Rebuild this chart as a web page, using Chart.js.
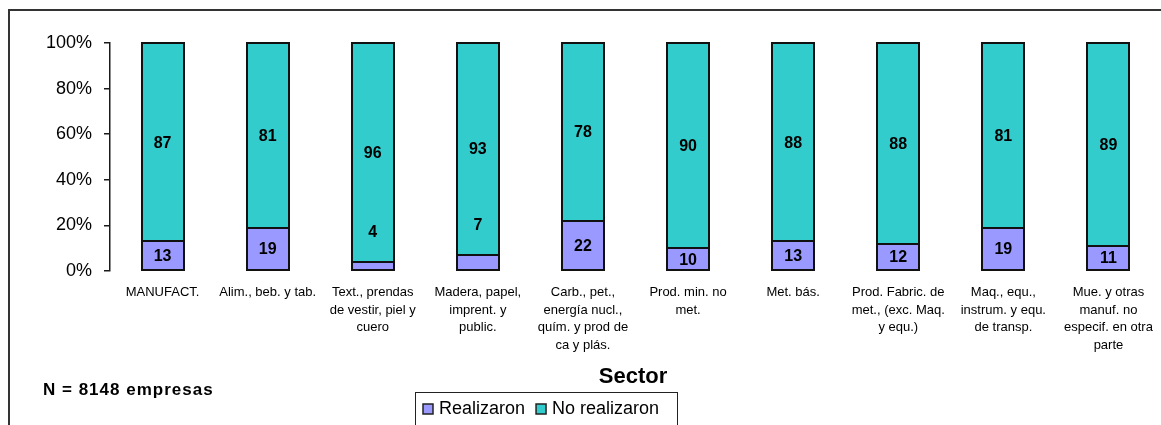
<!DOCTYPE html>
<html lang="es">
<head>
<meta charset="utf-8">
<title>Empresas por sector</title>
<script src="https://cdn.jsdelivr.net/npm/chart.js@4.4.1/dist/chart.umd.min.js"></script>
<style>
    html, body { margin: 0; padding: 0; background: #fff; }
    #wrap { position: relative; width: 1161px; height: 425px; }
</style>
</head>
<body>
<div id="wrap"><canvas id="sectorChart" width="1161" height="425"></canvas></div>
<script>
// Datos por sector (porcentaje de empresas)
const sectores = [
    'MANUFACT.',
    'Alim., beb. y tab.',
    ['Text., prendas', 'de vestir, piel y', 'cuero'],
    ['Madera, papel,', 'imprent. y', 'public.'],
    ['Carb., pet.,', 'energía nucl.,', 'quím. y prod de', 'ca y plás.'],
    ['Prod. min. no', 'met.'],
    'Met. bás.',
    ['Prod. Fabric. de', 'met., (exc. Maq.', 'y equ.)'],
    ['Maq., equ.,', 'instrum. y equ.', 'de transp.'],
    ['Mue. y otras', 'manuf. no', 'especif. en otra', 'parte']
];
const realizaron = [13, 19, 4, 7, 22, 10, 13, 12, 19, 11];
const noRealizaron = [87, 81, 96, 93, 78, 90, 88, 88, 81, 89];
const ticksY = [0, 20, 40, 60, 80, 100];

const tituloEje = 'Sector';
const nota = 'N = 8148 empresas';

const fuente = '"Liberation Sans", Arial, sans-serif';

// Marco exterior del gráfico
const marco = {
    id: 'marco',
    beforeDraw(chart) {
        const ctx = chart.ctx;
        ctx.save();
        ctx.fillStyle = '#fff';
        ctx.fillRect(0, 0, chart.width, chart.height);
        ctx.strokeStyle = '#333';
        ctx.lineWidth = 2;
        ctx.strokeRect(9, 10, 1300, 600);
        ctx.restore();
    }
};

// Contorno nítido de cada segmento y etiquetas con su valor
const etiquetas = {
    id: 'etiquetas',
    afterDatasetsDraw(chart) {
        const ctx = chart.ctx;
        const top = chart.chartArea.top;
        ctx.save();
        ctx.strokeStyle = '#111';
        ctx.lineWidth = 2;
        chart.data.datasets.forEach((ds, i) => {
            chart.getDatasetMeta(i).data.forEach(bar => {
                const x0 = Math.round(bar.x - bar.width / 2);
                const x1 = Math.round(bar.x + bar.width / 2);
                const y0 = Math.round(Math.max(bar.y, top));
                const y1 = Math.round(bar.base);
                ctx.strokeRect(x0, y0, x1 - x0, y1 - y0);
            });
        });

        ctx.font = 'bold 16px ' + fuente;
        ctx.fillStyle = '#000';
        ctx.textAlign = 'center';
        ctx.textBaseline = 'middle';
        chart.data.datasets.forEach((ds, i) => {
            chart.getDatasetMeta(i).data.forEach((bar, j) => {
                const v = ds.data[j];
                let y = (Math.max(bar.y, top) + bar.base) / 2;
                // segmentos pequeños: el valor va por encima
                if (i === 0 && v < 8) y = bar.y - 30;
                ctx.fillText(String(v), bar.x, y + 1);
            });
        });
        ctx.restore();
    }
};

// Título del eje, nota y leyenda
const textos = {
    id: 'textos',
    afterDraw(chart) {
        const ctx = chart.ctx;
        ctx.save();
        ctx.fillStyle = '#000';
        ctx.textBaseline = 'middle';

        ctx.font = 'bold 22px ' + fuente;
        ctx.textAlign = 'center';
        ctx.fillText(tituloEje, 633, 377);

        ctx.font = 'bold 17px ' + fuente;
        ctx.textAlign = 'left';
        ctx.letterSpacing = '1px';
        ctx.fillText(nota, 43, 390);
        ctx.letterSpacing = '0px';

        // leyenda
        ctx.strokeStyle = '#222';
        ctx.lineWidth = 1;
        ctx.strokeRect(415.5, 392.5, 262, 60);
        ctx.font = '18px ' + fuente;
        let x = 423;
        chart.data.datasets.forEach(ds => {
            ctx.fillStyle = ds.backgroundColor;
            ctx.fillRect(x, 404, 10, 10);
            ctx.strokeStyle = '#222';
            ctx.lineWidth = 1.5;
            ctx.strokeRect(x, 404, 10, 10);
            ctx.fillStyle = '#000';
            ctx.fillText(ds.label, x + 16, 409);
            x += 16 + ctx.measureText(ds.label).width + 11;
        });
        ctx.restore();
    }
};

new Chart(document.getElementById('sectorChart').getContext('2d'), {
    type: 'bar',
    data: {
        labels: sectores,
        datasets: [
            {
                label: 'Realizaron',
                data: realizaron,
                backgroundColor: '#9999FF',
                borderWidth: 0
            },
            {
                label: 'No realizaron',
                data: noRealizaron,
                backgroundColor: '#33CCCC',
                borderWidth: 0
            }
        ]
    },
    options: {
        responsive: false,
        animation: false,
        events: [],
        layout: { padding: { top: 43, right: 0, left: 0, bottom: 0 } },
        datasets: { bar: { categoryPercentage: 1, barPercentage: 0.4, clip: 0 } },
        plugins: {
            legend: { display: false },
            tooltip: { enabled: false }
        },
        scales: {
            x: {
                stacked: true,
                grid: { display: false },
                border: { display: false },
                ticks: {
                    color: '#000',
                    font: { family: fuente, size: 13, lineHeight: 1.35 },
                    padding: 5,
                    maxRotation: 0,
                    autoSkip: false
                },
                afterFit(scale) { scale.height = 154; }
            },
            y: {
                stacked: true,
                min: 0,
                max: 100,
                afterBuildTicks(scale) {
                    scale.ticks = ticksY.map(v => ({ value: v }));
                },
                grid: {
                    drawOnChartArea: false,
                    tickLength: 6,
                    color: '#1a1a1a',
                    lineWidth: 1.5
                },
                border: { color: '#1a1a1a', width: 1.5 },
                ticks: {
                    color: '#000',
                    font: { family: fuente, size: 18 },
                    padding: 12,
                    callback: v => v + '%'
                },
                afterFit(scale) { scale.width = 110; }
            }
        }
    },
    plugins: [marco, etiquetas, textos]
});
</script>
</body>
</html>
